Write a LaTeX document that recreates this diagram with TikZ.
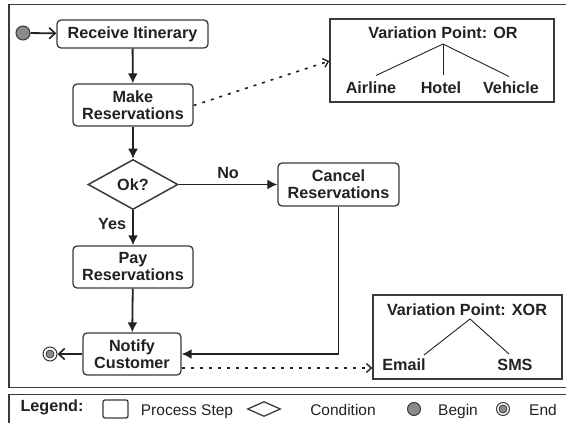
\documentclass[tikz,border=0pt]{standalone}
\usepackage{fontspec}
\setmainfont{Liberation Sans}
\usetikzlibrary{arrows.meta,shapes.geometric}
\definecolor{ink}{HTML}{222222}
\definecolor{edge}{HTML}{3A3A3A}
\definecolor{dot}{HTML}{8A8A8A}
\tikzset{
  proc/.style={draw=edge,line width=1.3pt,rounded corners=4pt,fill=white,inner sep=0pt,align=center,font=\fontsize{16.2}{17}\selectfont\bfseries,text=ink},
  cond/.style={draw=edge,line width=1.5pt,diamond,aspect=1.8,inner sep=0pt,minimum width=90pt,minimum height=50pt,font=\fontsize{16.2}{17}\selectfont\bfseries,text=ink},
  vpbox/.style={draw=edge,line width=1.3pt,inner sep=0pt},
  lbl/.style={font=\fontsize{16.2}{17}\selectfont\bfseries,text=ink,inner sep=0pt},
  leg/.style={font=\fontsize{15.5}{17}\selectfont,text=ink,inner sep=0pt,anchor=base},
  flow/.style={draw=ink,line width=1.8pt,-{Latex[length=10pt,width=10pt]}},
  open/.style={draw=ink,line width=1.8pt,-{Straight Barb[length=6pt,width=11pt,line width=1.6pt]}},
  dotln/.style={draw=ink,line width=1.6pt,dash pattern=on 3pt off 6pt,-{Straight Barb[length=5pt,width=9pt,line width=1.4pt]}},
  tree/.style={draw=ink,line width=0.9pt},
  startdot/.style={circle,draw=edge,line width=1pt,fill=dot,minimum size=14pt,inner sep=0pt},
  enddot/.style={circle,draw=edge,line width=1pt,fill=white,minimum size=14pt,inner sep=0pt,
    path picture={\fill[dot,draw=edge,line width=0.8pt] (path picture bounding box.center) circle (4pt);}}
}
\begin{document}
\begin{tikzpicture}[x=1pt,y=-1pt]
\useasboundingbox (0,0) rectangle (566,423);
% frames
\draw[draw=edge,line width=1.3pt] (580,4.5) -- (9,4.5) -- (9,387.5) -- (580,387.5);
\draw[draw=edge,line width=1.3pt] (580,394.5) -- (9,394.5) -- (9,440);

% nodes
\node[startdot] (begin) at (23,33) {};
\node[proc,minimum width=151pt,minimum height=28pt] (recv) at (132.5,34) {Receive Itinerary};
\node[proc,minimum width=120pt,minimum height=42pt] (make) at (133,105) {Make\\Reservations};
\node[cond] (ok) at (133,184.5) {Ok?};
\node[proc,minimum width=121pt,minimum height=43pt] (cancel) at (338.5,184.5) {Cancel\\Reservations};
\node[proc,minimum width=120pt,minimum height=42pt] (pay) at (133,267) {Pay\\Reservations};
\node[proc,minimum width=98pt,minimum height=42pt] (notify) at (132,354) {Notify\\Customer};
\node[enddot] (end) at (50,354) {};

% OR variation point
\node[vpbox,minimum width=224pt,minimum height=83pt] (orbox) at (442,60.5) {};
\node[lbl] (ortitle) at (443,33) {Variation Point: OR};
\coordinate (orroot) at (443,44);
\node[lbl] (airline) at (371,88) {Airline};
\node[lbl] (hotel) at (441,88) {Hotel};
\node[lbl] (vehicle) at (511,88) {Vehicle};
\draw[tree] (orroot) -- (376,75.5);
\draw[tree] (orroot) -- (443,74.5);
\draw[tree] (orroot) -- (509,76.5);

% XOR variation point
\node[vpbox,minimum width=189pt,minimum height=84pt] (xorbox) at (467.5,337) {};
\node[lbl] (xortitle) at (467,310) {Variation Point: XOR};
\coordinate (xorroot) at (470,319);
\node[lbl] (email) at (404,365) {Email};
\node[lbl] (sms) at (515,365) {SMS};
\draw[tree] (xorroot) -- (424,355);
\draw[tree] (xorroot) -- (509,354);

% connectors
\draw[open] (begin) -- (recv);
\draw[flow] (recv) -- (make);
\draw[flow] (make) -- (ok);
\draw[flow] (ok.south) -- node[lbl,pos=0.4,left=6pt] {Yes} (pay.north);
\draw[flow] (ok.east) -- node[lbl,above=5pt] {No} (cancel.west);
\draw[flow] (pay) -- (notify);
\draw[flow] (cancel.south) |- (notify.east);
\draw[open] (notify.west) -- (end);
\draw[dotln] ([yshift=-0.5pt]make.east) -- (orbox.west |- 0,61);
\draw[dotln] (notify.south east |- 0,368) -- (xorbox.west |- 0,368);

% legend
\node[lbl,anchor=base] (legtitle) at (52,411.5) {Legend:};
\node[draw=edge,line width=1.3pt,rounded corners=2pt,minimum width=25pt,minimum height=18pt,inner sep=0pt] (legbox) at (115.5,409) {};
\node[leg] (legproc) at (187,415) {Process Step};
\node[draw=edge,line width=1.3pt,diamond,aspect=2.3,minimum width=33pt,minimum height=15pt,inner sep=0pt] (legdia) at (264,409) {};
\node[leg] (legcond) at (343,415) {Condition};
\node[startdot,minimum size=13pt] (legbegin) at (414,409) {};
\node[leg] (legbeg) at (458,415) {Begin};
\node[enddot,minimum size=13pt] (legend2) at (503,409) {};
\node[leg] (legend) at (543,415) {End};
\end{tikzpicture}
\end{document}
